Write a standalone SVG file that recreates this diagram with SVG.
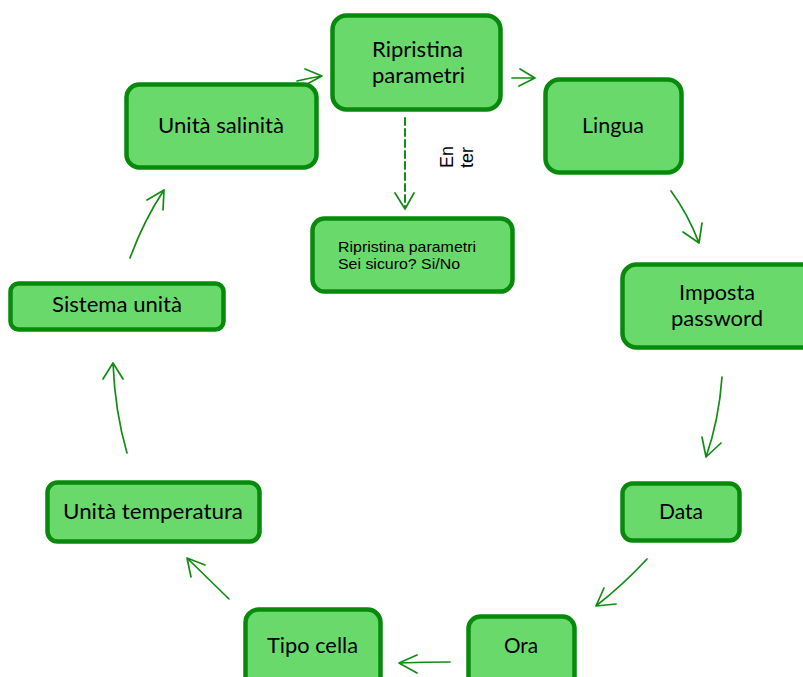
<svg xmlns="http://www.w3.org/2000/svg" width="803" height="677" viewBox="0 0 803 677">
  <style>
    .box { fill: #69d96b; stroke: #078a0c; stroke-width: 4.5; }
    .lbl { font-family: Lato, "Open Sans", "Liberation Sans", sans-serif; font-size: 21px; fill: #000; }
    .small { font-family: "Liberation Sans", Arial, sans-serif; font-size: 14.5px; fill: #000; }
    .side { font-family: "Liberation Sans", Arial, sans-serif; font-size: 18px; fill: #000; }
    .link { fill: none; stroke: #138c14; stroke-width: 1.7; stroke-linecap: round; stroke-linejoin: round; }
    .dash { stroke-dasharray: 7 4; stroke-width: 2; }
  </style>
  <rect width="803" height="677" fill="#fff"/>

  <!-- connectors: hand-drawn arrows with open heads -->
  <g id="connectors">
    <!-- Ripristina parametri -> Lingua -->
    <path class="link" d="M512 78 L535 78 M520 69 L535 78 L519 86"/>
    <!-- Lingua -> Imposta password -->
    <path class="link" d="M671 191 Q688 214 699 243 M683 232 L699 243 L702 223"/>
    <!-- Imposta password -> Data -->
    <path class="link" d="M722 377 Q719 420 706 457 M702 437 L706 457 L721 443"/>
    <!-- Data -> Ora -->
    <path class="link" d="M647 559 Q624 584 596 606 M604 588 L596 606 L616 604"/>
    <!-- Ora -> Tipo cella -->
    <path class="link" d="M450 662 Q425 662 399 663 M417 655 L399 663 L417 673"/>
    <!-- Tipo cella -> Unità temperatura -->
    <path class="link" d="M229 599 L187 558 M191 577 L187 558 L205 565"/>
    <!-- Unità temperatura -> Sistema unità -->
    <path class="link" d="M127 453 Q115 412 113 363 M103 379 L113 363 L123 379"/>
    <!-- Sistema unità -> Unità salinità -->
    <path class="link" d="M130 258 Q144 220 164 190 M147 200 L164 190 L163 210"/>
    <!-- Unità salinità -> Ripristina parametri -->
    <path class="link" d="M297 81 Q310 78 322 76 M305 69 L322 76 L307 84"/>
    <!-- Ripristina parametri -> confirmation (Enter) -->
    <path class="link dash" d="M405 118 L405 208"/>
    <path class="link" d="M395 193 L405 209 L414 193"/>
    <text class="side" transform="translate(453,168) rotate(-90)">En</text>
    <text class="side" transform="translate(473,168) rotate(-90)">ter</text>
  </g>

  <g id="ripristina">
    <rect class="box" x="332.5" y="15.5" width="168" height="94" rx="14"/>
    <text class="lbl" x="372" y="57" textLength="91" lengthAdjust="spacingAndGlyphs">Ripristina</text>
    <text class="lbl" x="372" y="83" textLength="93" lengthAdjust="spacingAndGlyphs">parametri</text>
  </g>

  <g id="lingua">
    <rect class="box" x="545.5" y="79.5" width="136" height="93" rx="14"/>
    <text class="lbl" x="582" y="133" textLength="62" lengthAdjust="spacingAndGlyphs">Lingua</text>
  </g>

  <g id="password">
    <rect class="box" x="622.5" y="264.5" width="200" height="83" rx="14"/>
    <text class="lbl" x="679" y="300" textLength="76" lengthAdjust="spacingAndGlyphs">Imposta</text>
    <text class="lbl" x="671" y="326" textLength="92" lengthAdjust="spacingAndGlyphs">password</text>
  </g>

  <g id="data">
    <rect class="box" x="622.5" y="483.5" width="117" height="57" rx="10"/>
    <text class="lbl" x="659" y="519" textLength="44" lengthAdjust="spacingAndGlyphs">Data</text>
  </g>

  <g id="ora">
    <rect class="box" x="468.5" y="616.5" width="106" height="80" rx="12"/>
    <text class="lbl" x="504" y="653" textLength="34" lengthAdjust="spacingAndGlyphs">Ora</text>
  </g>

  <g id="tipo-cella">
    <rect class="box" x="245.5" y="609.5" width="135" height="90" rx="13"/>
    <text class="lbl" x="267" y="653" textLength="91" lengthAdjust="spacingAndGlyphs">Tipo cella</text>
  </g>

  <g id="unita-temperatura">
    <rect class="box" x="47.5" y="482.5" width="212" height="59" rx="10"/>
    <text class="lbl" x="63" y="519" textLength="180" lengthAdjust="spacingAndGlyphs">Unità temperatura</text>
  </g>

  <g id="sistema-unita">
    <rect class="box" x="10.5" y="283.5" width="213" height="46" rx="8"/>
    <text class="lbl" x="52" y="312" textLength="130" lengthAdjust="spacingAndGlyphs">Sistema unità</text>
  </g>

  <g id="unita-salinita">
    <rect class="box" x="126.5" y="84.5" width="190" height="83" rx="13"/>
    <text class="lbl" x="158" y="133" textLength="126" lengthAdjust="spacingAndGlyphs">Unità salinità</text>
  </g>

  <g id="conferma">
    <rect class="box" x="312.5" y="218.5" width="200" height="73" rx="12"/>
    <text class="small" x="338" y="252" textLength="138" lengthAdjust="spacingAndGlyphs">Ripristina parametri</text>
    <text class="small" x="338" y="269" textLength="122" lengthAdjust="spacingAndGlyphs">Sei sicuro? Si/No</text>
  </g>
</svg>
